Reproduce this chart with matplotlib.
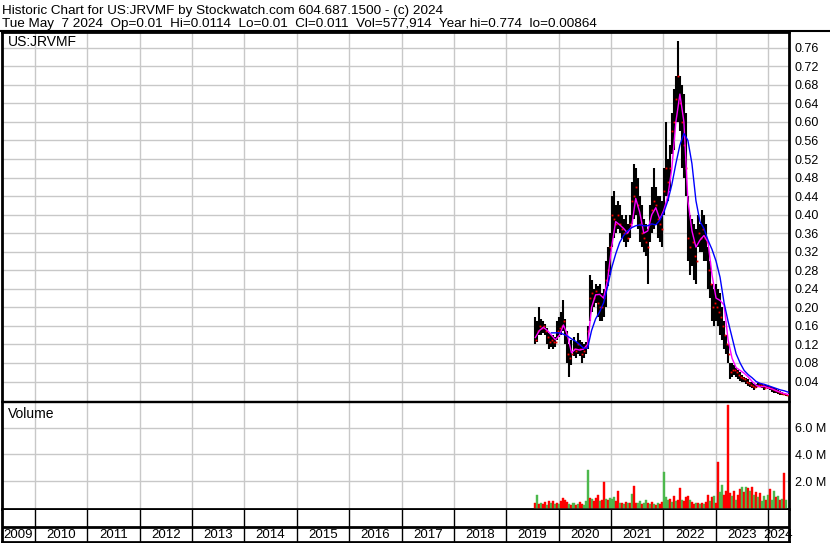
import numpy as np
import pandas as pd
import matplotlib
matplotlib.use("Agg")
import matplotlib.pyplot as plt
from matplotlib.ticker import FormatStrFormatter
from matplotlib.lines import Line2D

plt.rcParams['font.family'] = ['Liberation Sans', 'DejaVu Sans']

# price bars, one every two weeks from 2019-07-23 to 2024-05-07
hi = [.18, .17, .20, .175, .17, .165, .155, .145, .14, .14,
      .135, .17, .18, .19, .215, .175, .15, .12, .13, .135,
      .125, .145, .13, .125, .12, .125, .16, .27, .26, .24,
      .25, .245, .25, .23, .24, .30, .33, .36, .44, .45,
      .42, .43, .42, .40, .39, .40, .38, .40, .47, .51,
      .50, .48, .44, .42, .39, .38, .37, .42, .46, .50,
      .46, .44, .44, .43, .50, .60, .52, .55, .62, .67,
      .70, .774, .70, .68, .66, .62, .44, .40, .39, .38,
      .37, .40, .38, .41, .40, .38, .33, .30, .25, .24,
      .25, .24, .23, .20, .17, .14, .12, .08, .08, .075,
      .07, .065, .06, .055, .05, .048, .045, .04, .038, .035,
      .035, .037, .036, .034, .032, .033, .032, .030, .028, .026,
      .025, .022, .020, .018, .016, .0114]
lo = [.12, .125, .14, .14, .145, .14, .12, .11, .115, .11,
      .115, .13, .135, .14, .15, .12, .08, .05, .075, .095,
      .09, .10, .095, .08, .09, .10, .11, .17, .19, .20,
      .21, .18, .17, .17, .18, .20, .245, .27, .33, .35,
      .36, .37, .36, .35, .34, .33, .34, .35, .38, .39,
      .40, .37, .34, .33, .32, .31, .25, .34, .36, .37,
      .38, .35, .34, .33, .40, .44, .43, .45, .53, .54,
      .60, .60, .58, .50, .48, .44, .30, .27, .29, .26,
      .25, .33, .32, .32, .30, .30, .24, .22, .17, .16,
      .17, .16, .14, .13, .11, .10, .08, .045, .05, .055,
      .05, .045, .042, .04, .038, .035, .03, .028, .025, .022,
      .025, .028, .028, .025, .022, .025, .024, .022, .018, .016,
      .015, .014, .012, .011, .010, .0086]
close = [.13, .15, .16, .155, .16, .15, .135, .125, .13, .125,
         .125, .15, .155, .16, .17, .14, .10, .09, .10, .11,
         .105, .12, .11, .10, .105, .115, .15, .22, .23, .22,
         .235, .21, .20, .20, .22, .26, .28, .33, .40, .39,
         .38, .40, .38, .37, .36, .36, .35, .38, .43, .44,
         .46, .42, .38, .36, .35, .34, .33, .38, .41, .43,
         .42, .39, .38, .37, .45, .50, .47, .50, .58, .60,
         .65, .70, .64, .60, .55, .50, .35, .33, .34, .31,
         .30, .36, .35, .37, .35, .34, .28, .25, .20, .21,
         .20, .19, .18, .16, .14, .12, .10, .06, .065, .065,
         .06, .055, .05, .048, .045, .04, .037, .033, .03, .028,
         .03, .032, .032, .03, .027, .029, .028, .026, .023, .021,
         .02, .018, .016, .014, .013, .011]

# volume in millions, r = down day, g = up day
vol = [0.4, 0.95, 0.3, 0.4, 0.3, 0.45, 0.25, 0.5, 0.35, 0.55,
       0.3, 0.4, 0.3, 0.55, 0.75, 0.6, 0.45, 0.3, 0.25, 0.35,
       0.2, 0.3, 0.45, 0.3, 0.25, 0.5, 2.8, 0.75, 0.65, 0.55,
       0.75, 0.95, 0.5, 0.6, 1.95, 0.7, 0.6, 0.75, 0.65, 0.8,
       0.55, 1.25, 0.4, 0.35, 0.3, 0.45, 0.35, 0.4, 1.05, 1.65,
       0.4, 0.35, 0.5, 0.3, 0.4, 0.6, 0.35, 0.3, 0.45, 0.3,
       0.25, 0.4, 0.3, 0.45, 2.7, 0.85, 0.6, 0.7, 0.45, 0.9,
       0.5, 0.6, 1.5, 0.6, 0.5, 0.8, 0.9, 0.6, 0.45, 0.3,
       0.35, 0.4, 0.3, 0.35, 0.3, 0.45, 1.0, 0.5, 0.8, 0.9,
       0.4, 3.4, 1.2, 1.7, 1.0, 1.3, 7.7, 1.1, 0.9, 1.25,
       0.6, 1.0, 1.4, 1.6, 1.2, 1.55, 1.5, 1.3, 1.6, 1.0,
       1.2, 0.8, 1.1, 0.5, 0.9, 0.6, 1.0, 1.4, 0.6, 1.3,
       0.8, 0.9, 0.6, 0.7, 2.6, 0.6]
updown = ("rgrgrrgrgr" "grgrrrrgrg" "rgrrgggrgr" "rrgrrgrggg"
          "rrgrgrgrgr" "rggrggrgrg" "rgrrgggrgr" "grrgrrrgrr"
          "grgrgrrgrg" "rrggrrrrgr" "grrgrgrgrg" "rgrggrgrgg"
          "rgrgrg")

# moving averages, one value every four weeks
ma_fast = [.135, .15, .157, .15, .14, .13, .14, .162, .14, .102,
           .11, .108, .11, .12, .20, .227, .228, .22, .26, .33,
           .385, .378, .37, .36, .375, .435, .405, .36, .365, .40,
           .415, .39, .41, .44, .50, .60, .66, .60, .43, .365,
           .33, .345, .355, .34, .27, .22, .215, .205, .13, .09,
           .07, .064, .058, .05, .04, .032, .028, .030, .026, .024,
           .02, .017, .014, .012]
ma_slow = [.145, .145, .145, .142, .138, .132, .127, .12, .112, .112,
           .15, .175, .19, .21, .245, .285, .315, .34, .355, .365,
           .372, .376, .378, .376, .376, .38, .378, .388, .405, .43,
           .465, .51, .55, .575, .56, .51, .43, .385, .37, .345,
           .325, .30, .265, .21, .17, .135, .10, .08, .064, .055,
           .048, .04, .036, .034, .031, .028, .025, .022, .02, .017]

price_ticks = [0.04, 0.08, 0.12, 0.16, 0.20, 0.24, 0.28, 0.32, 0.36, 0.40,
               0.44, 0.48, 0.52, 0.56, 0.60, 0.64, 0.68, 0.72, 0.76]
vol_ticks = [2, 4, 6]
vol_labels = ['2.0 M', '4.0 M', '6.0 M']
years = list(range(2009, 2025))

dates = pd.date_range('2019-07-23', periods=len(hi), freq='14D')
fast_dates = pd.date_range('2019-07-23', periods=len(ma_fast), freq='28D')
slow_dates = pd.date_range('2019-11-12', periods=len(ma_slow), freq='28D')

x0 = pd.Timestamp('2009-05-16')
x1 = pd.Timestamp('2024-05-26')
year_starts = [pd.Timestamp(f'{y}-01-01') for y in years[1:]]

W, H = 830, 543
fig = plt.figure(figsize=(W / 100, H / 100), dpi=100)


def box(top, bottom, left=2, right=789):
    return [left / W, 1 - bottom / H, (right - left) / W, (bottom - top) / H]


grid_c = '#c8c8c8'

# header
fig.text(2 / W, 1 - 14 / H,
         "Historic Chart for US:JRVMF by Stockwatch.com 604.687.1500 - (c) 2024",
         fontsize=9.7, ha='left', va='baseline')
fig.text(2 / W, 1 - 27 / H,
         "Tue May  7 2024  Op=0.01  Hi=0.0114  Lo=0.01  Cl=0.011  Vol=577,914  Year hi=0.774  lo=0.00864",
         fontsize=9.7, ha='left', va='baseline')
fig.add_artist(Line2D([0, 1], [1 - 31 / H, 1 - 31 / H], color='black', lw=1.5,
                      transform=fig.transFigure))

# price panel
ax = fig.add_axes(box(32, 401))
ax.vlines(dates, lo, hi, color='black', lw=1.5, zorder=3)
ax.plot(dates + pd.Timedelta(days=4), close, ls='none', marker='s', ms=1.3,
        mew=0, color='red', zorder=4)
ax.plot(fast_dates, ma_fast, color='#ff00ff', lw=1.0, zorder=5)
ax.plot(slow_dates, ma_slow, color='#0000ff', lw=1.0, zorder=5)
ax.set_xlim(x0, x1)
ax.set_ylim(-0.002, 0.794)
ax.set_xticks(year_starts)
ax.set_yticks(price_ticks)
ax.yaxis.set_major_formatter(FormatStrFormatter('%.2f'))
ax.yaxis.tick_right()
ax.tick_params(axis='y', length=0, pad=4, labelsize=9)
ax.tick_params(axis='x', length=0, labelbottom=False)
ax.grid(color=grid_c, lw=1.0)
ax.set_axisbelow(True)
ax.annotate('US:JRVMF', xy=(0, 1), xycoords='axes fraction', xytext=(6, -14),
            textcoords='offset pixels', fontsize=10, va='baseline')
for s in ['left', 'right', 'top']:
    ax.spines[s].set_linewidth(2)
ax.spines['bottom'].set_linewidth(1)

# volume panel
axv = fig.add_axes(box(402, 509))
bar_colors = ['#ff0000' if c == 'r' else '#4cb84c' for c in updown]
axv.bar(dates, vol, width=14, color=bar_colors, edgecolor=bar_colors, lw=0.3, zorder=3)
axv.set_xlim(x0, x1)
axv.set_ylim(-0.07, 7.9)
axv.set_xticks(year_starts)
axv.set_yticks(vol_ticks)
axv.set_yticklabels(vol_labels)
axv.yaxis.tick_right()
axv.tick_params(axis='y', length=0, pad=4, labelsize=9)
axv.tick_params(axis='x', length=0, labelbottom=False)
axv.grid(color=grid_c, lw=1.0)
axv.set_axisbelow(True)
axv.annotate('Volume', xy=(0, 1), xycoords='axes fraction', xytext=(6, -16),
             textcoords='offset pixels', fontsize=10, va='baseline')
axv.spines['top'].set_linewidth(1)
for s in ['left', 'right', 'bottom']:
    axv.spines[s].set_linewidth(2)

# year strip
axs = fig.add_axes(box(510, 542))
axs.set_xlim(x0, x1)
axs.set_ylim(0, 32)
axs.axhline(15.5, color='black', lw=2)
for d in year_starts:
    axs.axvline(d, color='black', lw=1)
for y in years:
    a = max(pd.Timestamp(f'{y}-01-01'), x0)
    b = min(pd.Timestamp(f'{y + 1}-01-01'), x1)
    axs.text(a + (b - a) / 2, 7.5, str(y), ha='center', va='center', fontsize=9.5)
axs.set_xticks([])
axs.set_yticks([])
axs.spines['top'].set_visible(False)
for s in ['left', 'right', 'bottom']:
    axs.spines[s].set_linewidth(2)

fig.savefig('out.png', dpi=100)
